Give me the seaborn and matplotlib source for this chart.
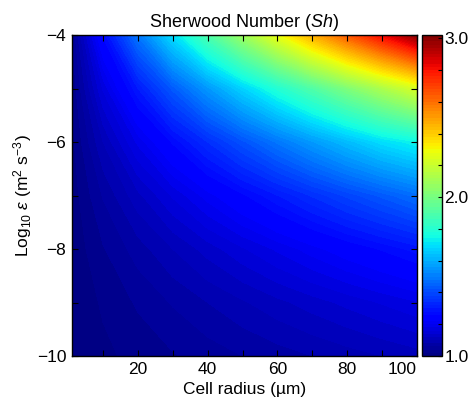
import numpy as np
import pandas as pd
import seaborn as sns
import matplotlib
matplotlib.use('Agg')
import matplotlib.pyplot as plt
from matplotlib.ticker import MultipleLocator

# Cell radius (um) and log10 of dissipation rate
radius = [1, 10, 20, 30, 40, 50, 60, 70, 80, 90, 100]
log_eps = [-10, -9, -8, -7, -6, -5, -4]

# Sherwood number, one list per log10(eps) row
sh_m10 = [1.002, 1.015, 1.027, 1.038, 1.049, 1.060, 1.070, 1.080, 1.090, 1.100, 1.110]
sh_m9 = [1.003, 1.023, 1.043, 1.062, 1.080, 1.097, 1.114, 1.130, 1.146, 1.162, 1.178]
sh_m8 = [1.005, 1.038, 1.070, 1.100, 1.129, 1.157, 1.184, 1.211, 1.238, 1.263, 1.289]
sh_m7 = [1.008, 1.062, 1.114, 1.163, 1.210, 1.255, 1.299, 1.343, 1.386, 1.427, 1.469]
sh_m6 = [1.013, 1.100, 1.185, 1.264, 1.340, 1.413, 1.485, 1.556, 1.625, 1.692, 1.740]
sh_m5 = [1.021, 1.163, 1.300, 1.428, 1.551, 1.670, 1.787, 1.901, 2.014, 2.123, 2.233]
sh_m4 = [1.035, 1.264, 1.486, 1.694, 1.894, 2.086, 2.276, 2.462, 2.644, 2.822, 3.000]

x_ticks = [10, 20, 30, 40, 50, 60, 70, 80, 90, 100]
x_labels = ['', '20', '', '40', '', '60', '', '80', '', '100']
y_ticks = [-10, -9, -8, -7, -6, -5, -4]
y_labels = ['\u221210', '', '\u22128', '', '\u22126', '', '\u22124']

df = pd.DataFrame([sh_m10, sh_m9, sh_m8, sh_m7, sh_m6, sh_m5, sh_m4],
                  index=log_eps, columns=radius)

sns.set_theme(style='ticks')
plt.rcParams['font.family'] = ['Liberation Sans', 'DejaVu Sans']
plt.rcParams['mathtext.fontset'] = 'custom'
plt.rcParams['mathtext.rm'] = 'Liberation Sans'
plt.rcParams['mathtext.it'] = 'Liberation Sans:italic'
plt.rcParams['xtick.direction'] = 'in'
plt.rcParams['ytick.direction'] = 'in'
for k in ['text.color', 'axes.labelcolor', 'xtick.color', 'ytick.color',
          'axes.edgecolor']:
    plt.rcParams[k] = 'black'

fig = plt.figure(figsize=(4.74, 4.07), dpi=100)
ax = fig.add_axes([0.1513, 0.1253, 0.728, 0.7887])
cax = fig.add_axes([0.8897, 0.1253, 0.0422, 0.7887])

levels = np.linspace(1.0, 3.02, 102)
cs = ax.contourf(df.columns, df.index, df.values, levels=levels, cmap='jet',
                 vmin=1.0, vmax=3.02)
ax.set_axisbelow(False)

ax.set_xlim(1, 100)
ax.set_ylim(-10, -4)
ax.set_xticks(x_ticks)
ax.set_xticklabels(x_labels)
ax.set_yticks(y_ticks)
ax.set_yticklabels(y_labels)
ax.get_xticklabels()[-1].set_horizontalalignment('right')
ax.tick_params(axis='both', labelsize=12.5, length=4, width=0.8, color='black',
               top=True, right=True, pad=4)
for s in ax.spines.values():
    s.set_linewidth(1.0)

ax.set_title(r'Sherwood Number ($\mathit{Sh}$)', fontsize=13, pad=6)
ax.set_xlabel('Cell radius (\u00b5m)', fontsize=12.5, labelpad=4)
ax.set_ylabel(r'Log$_{10}$ $\varepsilon$ (m$^2$ s$^{-3}$)', fontsize=12.5, labelpad=2)

cb = fig.colorbar(cs, cax=cax, ticks=[1.0, 2.0, 3.0])
cb.ax.set_yticklabels(['1.0', '2.0', '3.0'])
cb.ax.yaxis.set_minor_locator(MultipleLocator(0.2))
cb.ax.set_axisbelow(False)
cb.ax.tick_params(which='both', direction='in', length=3, width=0.8,
                  color='black', labelsize=12.5, pad=2)
cb.outline.set_edgecolor('black')
cb.outline.set_linewidth(1.0)

fig.savefig('out.png', dpi=100)
